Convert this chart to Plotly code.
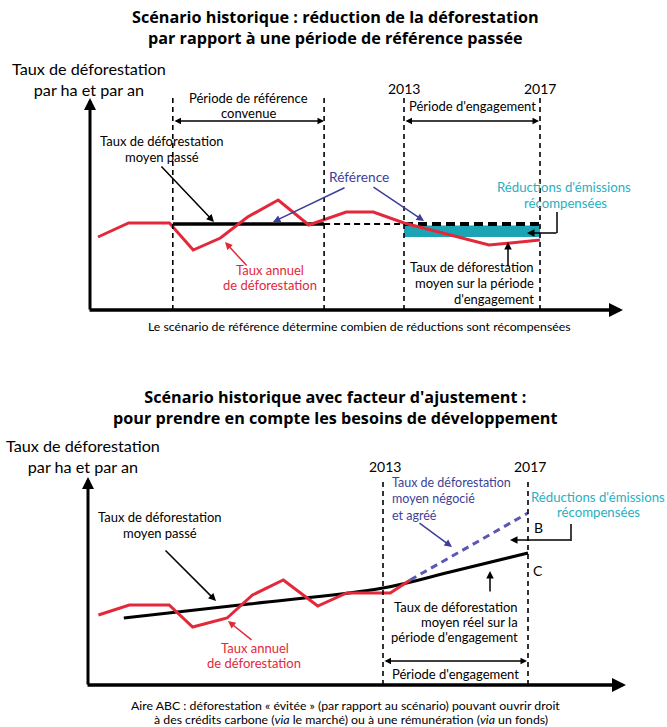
import plotly.graph_objects as go

W, H = 667, 727
FONT = "Lato"
TFONT = "Open Sans"

# ---------------- DATA ----------------
# Top scenario : reference period in the past
TOP_YEARS = [2004.0, 2004.9, 2006.1, 2006.8, 2007.6, 2008.4, 2009.3, 2010.2, 2011.3, 2012.1, 2013.0, 2015.5, 2017.0]
TOP_ANNUAL = [7.3, 8.7, 8.7, 6.0, 7.2, 9.3, 11.0, 8.5, 9.8, 9.8, 8.7, 6.5, 7.0]
REF_PERIOD = [2006.2, 2010.65]
COMMIT_PERIOD = [2013, 2017]
REF_MEAN = 8.6
COMMIT_MEAN = 7.3

# Bottom scenario : with adjustment factor
BOT_YEARS = [2005.15, 2006.0, 2007.1, 2007.75, 2008.7, 2009.4, 2010.25, 2011.2, 2012.0, 2013.2, 2013.75]
BOT_ANNUAL = [7.0, 8.0, 8.0, 5.8, 6.7, 9.0, 10.5, 7.9, 9.2, 9.2, 10.5]
TREND_YEARS = [2005.85, 2009.3, 2013.0, 2014.85, 2017.0]
TREND_RATE = [6.7, 8.1, 9.7, 11.3, 13.2]
NEGO_YEARS = [2013.75, 2017.0]
NEGO_RATE = [10.5, 17.2]

RED = "#e3283a"
TEAL = "#1ca4b4"
TEAL_TXT = "#27b0c2"
BLUE = "#3d3f98"
BLUE2 = "#5b57b5"

# pixel <-> data mapping helpers (each panel's axes span the whole page)
def TX(px): return 2013 + (px - 404) / 34.0
def TY(py): return (310 - py) / 10.0
def BX(px): return 2013 + (px - 383) / 36.25
def BY(py): return (685 - py) / 10.0

fig = go.Figure()

# ---- top panel traces ----
fig.add_trace(go.Scatter(x=[COMMIT_PERIOD[0], COMMIT_PERIOD[1], COMMIT_PERIOD[1], COMMIT_PERIOD[0]],
                         y=[COMMIT_MEAN, COMMIT_MEAN, REF_MEAN - 0.15, REF_MEAN - 0.15],
                         fill="toself", fillcolor=TEAL, line=dict(width=0), mode="lines",
                         xaxis="x", yaxis="y", hoverinfo="skip"))
fig.add_trace(go.Scatter(x=REF_PERIOD, y=[REF_MEAN, REF_MEAN], mode="lines",
                         line=dict(color="black", width=3.5), xaxis="x", yaxis="y"))
fig.add_trace(go.Scatter(x=[REF_PERIOD[1], COMMIT_PERIOD[0]], y=[REF_MEAN, REF_MEAN], mode="lines",
                         line=dict(color="black", width=2, dash="6px,4px"), xaxis="x", yaxis="y"))
fig.add_trace(go.Scatter(x=COMMIT_PERIOD, y=[REF_MEAN, REF_MEAN], mode="lines",
                         line=dict(color="black", width=4, dash="9px,5px"), xaxis="x", yaxis="y"))
fig.add_trace(go.Scatter(x=TOP_YEARS, y=TOP_ANNUAL, mode="lines",
                         line=dict(color=RED, width=3), xaxis="x", yaxis="y"))

# ---- bottom panel traces ----
fig.add_trace(go.Scatter(x=TREND_YEARS, y=TREND_RATE, mode="lines", line_shape="spline",
                         line=dict(color="black", width=3), xaxis="x2", yaxis="y2"))
fig.add_trace(go.Scatter(x=BOT_YEARS, y=BOT_ANNUAL, mode="lines",
                         line=dict(color=RED, width=3), xaxis="x2", yaxis="y2"))
fig.add_trace(go.Scatter(x=NEGO_YEARS, y=NEGO_RATE, mode="lines",
                         line=dict(color=BLUE2, width=3, dash="7px,5px"), xaxis="x2", yaxis="y2"))

shapes = []
# dashed verticals
for xv in REF_PERIOD + COMMIT_PERIOD:
    shapes.append(dict(type="line", xref="x", yref="y", x0=xv, x1=xv, y0=0, y1=TY(94),
                       line=dict(color="black", width=1.6, dash="5px,4px")))
for xv in COMMIT_PERIOD:
    shapes.append(dict(type="line", xref="x2", yref="y2", x0=xv, x1=xv, y0=0, y1=BY(478),
                       line=dict(color="black", width=1.6, dash="5px,4px")))
# bracket verticals
shapes.append(dict(type="line", xref="paper", yref="paper", x0=557 / W, x1=557 / W,
                   y0=1 - 212 / H, y1=1 - 233 / H, line=dict(color="black", width=1.5)))
shapes.append(dict(type="line", xref="paper", yref="paper", x0=571 / W, x1=571 / W,
                   y0=1 - 524 / H, y1=1 - 541 / H, line=dict(color="black", width=1.5)))

ann = []

def text(px, py, s, size=13, color="black", bold=False, xanchor="center", family=FONT, align="center"):
    if bold:
        s = "<b>" + s.replace("<br>", "</b><br><b>") + "</b>"
    ann.append(dict(x=px / W, y=1 - py / H, xref="paper", yref="paper", text=s, showarrow=False,
                    xanchor=xanchor, yanchor="middle", borderpad=0, align=align,
                    font=dict(family=family, size=size, color=color)))

def arrow(hx, hy, tx, ty, color="black", width=1.5, head=2, size=1.0, both=False):
    d = dict(x=hx / W, y=1 - hy / H, xref="paper", yref="paper", ax=tx - hx, ay=ty - hy,
             axref="pixel", ayref="pixel", text="", showarrow=True, arrowhead=head,
             arrowsize=size, arrowwidth=width, arrowcolor=color, standoff=0, startstandoff=0)
    if both:
        d["arrowside"] = "end+start"
        d["startarrowhead"] = head
        d["startarrowsize"] = size
    ann.append(d)

TS = 16.2   # title size
YS = 16.2   # y-axis label size
LS = 13     # label size
CS = 12.3   # caption size
RS = 13.2   # teal label size

# ---------- TOP PANEL ----------
text(335, 27.5, "Scénario historique : réduction de la déforestation<br>par rapport à une période de référence passée",
     TS, bold=True, family=TFONT)
text(89, 79, "Taux de déforestation<br>par ha et par an", YS)
arrow(90, 98, 90, 311, width=3, head=2, size=0.8)
arrow(623, 310, 88, 310, width=3.5, head=2, size=0.8)
text(248, 98, "Période de référence", LS)
text(248, 113, "convenue", LS)
arrow(324, 121, 173, 121, width=1.3, head=2, size=1.0, both=True)
text(404, 88, "2013", 14)
text(540, 88, "2017", 14)
text(472, 106, "Période d'engagement", LS)
arrow(539, 121, 404, 121, width=1.3, head=2, size=1.0, both=True)
text(162, 141, "Taux de déforestation", LS)
text(162, 157, "moyen passé", LS)
arrow(214, 222, 160, 165)
text(359, 176, "Référence", 13.7, color=BLUE)
arrow(273, 222, 346, 187, color=BLUE)
arrow(424, 221, 372, 186, color=BLUE)
text(564, 187, "Réductions d'émissions", RS, color=TEAL_TXT)
text(565, 203, "récompensées", RS, color=TEAL_TXT)
arrow(527, 233, 558, 233)
text(270, 270, "Taux annuel", LS, color=RED)
text(270, 285, "de déforestation", LS, color=RED)
arrow(225, 242, 248, 267, color=RED)
text(535, 267, "Taux de déforestation", LS, xanchor="right")
text(535, 283, "moyen sur la période", LS, xanchor="right")
text(535, 299, "d'engagement", LS, xanchor="right")
arrow(508, 242, 508, 268, width=1.5)
text(359, 327, "Le scénario de référence détermine combien de réductions sont récompensées", CS)

# ---------- BOTTOM PANEL ----------
text(335, 407, "Scénario historique avec facteur d'ajustement :<br>pour prendre en compte les besoins de développement",
     TS, bold=True, family=TFONT)
text(83, 456, "Taux de déforestation<br>par ha et par an", YS)
arrow(88, 477, 88, 686, width=3, head=2, size=0.8)
arrow(626, 685, 86, 685, width=3.5, head=2, size=0.8)
text(385, 466, "2013", 14)
text(530, 466, "2017", 14)
text(391, 499.5, "Taux de déforestation<br>moyen négocié<br>et agréé", 12.5, color=BLUE,
     xanchor="left", align="left")
arrow(452, 547, 418, 522, color=BLUE)
text(598, 497, "Réductions d'émissions", RS, color=TEAL_TXT)
text(598, 512, "récompensées", RS, color=TEAL_TXT)
arrow(510, 540, 572, 540)
text(538, 527, "B", 14)
text(538, 570, "C", 14)
text(160, 517, "Taux de déforestation", LS)
text(160, 533, "moyen passé", LS)
arrow(216, 601, 164, 549)
text(255, 648, "Taux annuel", LS, color=RED)
text(254, 663, "de déforestation", LS, color=RED)
arrow(228, 621, 253, 641, color=RED)
text(519, 607, "Taux de déforestation", LS, xanchor="right")
text(519, 622, "moyen réel sur la", LS, xanchor="right")
text(519, 637, "période d'engagement", LS, xanchor="right")
arrow(490, 571, 490, 593, width=1.5)
arrow(527, 661, 383, 661, width=1.3, head=2, size=1.0, both=True)
text(455, 674, "Période d'engagement", LS)
text(345, 705, "Aire ABC : déforestation « évitée » (par rapport au scénario) pouvant ouvrir droit", CS)
text(351, 719, "à des crédits carbone (<i>via</i> le marché) ou à une rémunération (<i>via</i> un fonds)", CS)

hidden = dict(visible=False, showgrid=False, zeroline=False, fixedrange=True)
fig.update_layout(
    width=W, height=H, margin=dict(l=0, r=0, t=0, b=0),
    paper_bgcolor="white", plot_bgcolor="rgba(0,0,0,0)", showlegend=False,
    xaxis=dict(domain=[0, 1], range=[TX(0), TX(W)], **hidden),
    yaxis=dict(domain=[0, 1], range=[TY(H), TY(0)], **hidden),
    xaxis2=dict(domain=[0, 1], range=[BX(0), BX(W)], anchor="y2", **hidden),
    yaxis2=dict(domain=[0, 1], range=[BY(H), BY(0)], anchor="x2", **hidden),
    shapes=shapes, annotations=ann,
)
fig.write_html("out.html", config={"displayModeBar": False},
               post_script="document.body.style.margin='0';")
